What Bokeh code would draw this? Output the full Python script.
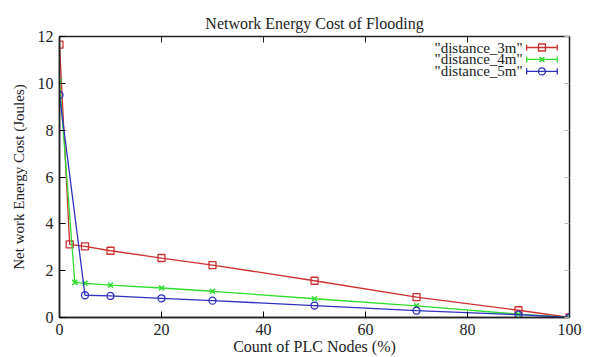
from bokeh.plotting import figure
from bokeh.models import LinearAxis, FixedTicker, Range1d
from bokeh.core.properties import value
from bokeh.embed import file_html
from bokeh.resources import INLINE

x_3m = [0, 2, 5, 10, 20, 30, 50, 70, 90, 100]
y_3m = [11.65, 3.12, 3.04, 2.85, 2.54, 2.24, 1.57, 0.87, 0.31, 0.0]
x_4m = [0, 3, 5, 10, 20, 30, 50, 70, 90, 100]
y_4m = [10.07, 1.5, 1.46, 1.38, 1.26, 1.12, 0.8, 0.5, 0.14, 0.0]
x_5m = [0, 5, 10, 20, 30, 50, 70, 90, 100]
y_5m = [9.5, 0.95, 0.92, 0.82, 0.72, 0.51, 0.29, 0.12, 0.0]
names = ['"distance_3m"', '"distance_4m"', '"distance_5m"']
x_ticks = [0, 20, 40, 60, 80, 100]
y_ticks = [0, 2, 4, 6, 8, 10, 12]

FONT = "Liberation Serif"
RED, GREEN, BLUE = "#cc3030", "#30dd30", "#3030c0"
colors = [RED, GREEN, BLUE]
markers = ["square", "x", "circle"]

p = figure(width=591, height=357, output_backend="svg", toolbar_location=None,
           x_range=Range1d(0, 100), y_range=Range1d(0, 12),
           min_border_left=59, min_border_right=22, min_border_top=36,
           min_border_bottom=39)
p.title.text = "Network Energy Cost of Flooding"
p.title.align = "center"
p.title.vertical_align = "top"
p.title.text_font = FONT
p.title.text_font_size = "16px"
p.title.text_font_style = "normal"
p.title.text_color = "#222222"
p.title.standoff = 6

p.xgrid.visible = False
p.ygrid.visible = False
p.outline_line_color = "#222222"
p.outline_line_width = 1.5

for ax in (p.xaxis[0], p.yaxis[0]):
    ax.axis_line_color = "#222222"
    ax.axis_line_width = 1.5
    ax.major_tick_in = 6
    ax.major_tick_out = 0
    ax.minor_tick_line_color = None
    ax.major_label_text_font = FONT
    ax.major_label_text_font_size = "16px"
    ax.major_label_text_color = "#222222"
    ax.axis_label_text_font = FONT
    ax.axis_label_text_font_style = "normal"
    ax.axis_label_text_color = "#222222"
p.xaxis[0].ticker = FixedTicker(ticks=x_ticks)
p.yaxis[0].ticker = FixedTicker(ticks=y_ticks)
p.xaxis[0].axis_label = "Count of PLC Nodes (%)"
p.yaxis[0].axis_label = "Net work Energy Cost (Joules)"
p.xaxis[0].axis_label_text_font_size = "16px"
p.yaxis[0].axis_label_text_font_size = "15px"
p.xaxis[0].major_label_standoff = 6
p.xaxis[0].axis_label_standoff = 0
p.yaxis[0].major_label_standoff = 6
p.yaxis[0].axis_label_standoff = 8

top = LinearAxis(ticker=FixedTicker(ticks=x_ticks), major_label_text_color=None,
                 major_tick_in=6, major_tick_out=0, minor_tick_line_color=None,
                 axis_line_color="#222222", major_tick_line_color="#222222")
right = LinearAxis(ticker=FixedTicker(ticks=y_ticks), major_label_text_color=None,
                   major_tick_in=5, major_tick_out=0, minor_tick_line_color=None,
                   axis_line_color="#222222", major_tick_line_color="#bbbbbb")
p.add_layout(top, "above")
p.add_layout(right, "right")

series = [(x_3m, y_3m), (x_4m, y_4m), (x_5m, y_5m)]
for (xs, ys), c, m in zip(series, colors, markers):
    p.line(xs, ys, color=c, line_width=1.3)
    if m == "x":
        p.scatter(xs, ys, marker=m, size=7, line_color=c, line_width=1.5)
    else:
        p.scatter(xs, ys, marker=m, size=7, fill_color=None, line_color=c, line_width=1.3)

# gnuplot-style key (text right-aligned, sample with end caps on the right)
key_y = [11.53, 11.02, 10.51]
key_text_x = 90.8
key_x0, key_x1, key_xm = 91.6, 97.6, 94.6
cap = 0.13
p.text(x=[key_text_x] * 3, y=key_y, text=names, text_align="right",
       text_baseline="middle", text_font=value(FONT), text_font_size="15px",
       text_color="#222222")
p.segment(x0=[key_x0] * 3, y0=key_y, x1=[key_x1] * 3, y1=key_y, line_color=colors, line_width=1.3)
p.segment(x0=[key_x0] * 3, y0=[v - cap for v in key_y], x1=[key_x0] * 3,
          y1=[v + cap for v in key_y], line_color=colors, line_width=1.3)
p.segment(x0=[key_x1] * 3, y0=[v - cap for v in key_y], x1=[key_x1] * 3,
          y1=[v + cap for v in key_y], line_color=colors, line_width=1.3)
for yv, c, m in zip(key_y, colors, markers):
    if m == "x":
        p.scatter([key_xm], [yv], marker=m, size=7, line_color=c, line_width=1.5)
    else:
        p.scatter([key_xm], [yv], marker=m, size=7, fill_color=None, line_color=c, line_width=1.3)

open("out.html", "w").write(file_html(p, INLINE))
